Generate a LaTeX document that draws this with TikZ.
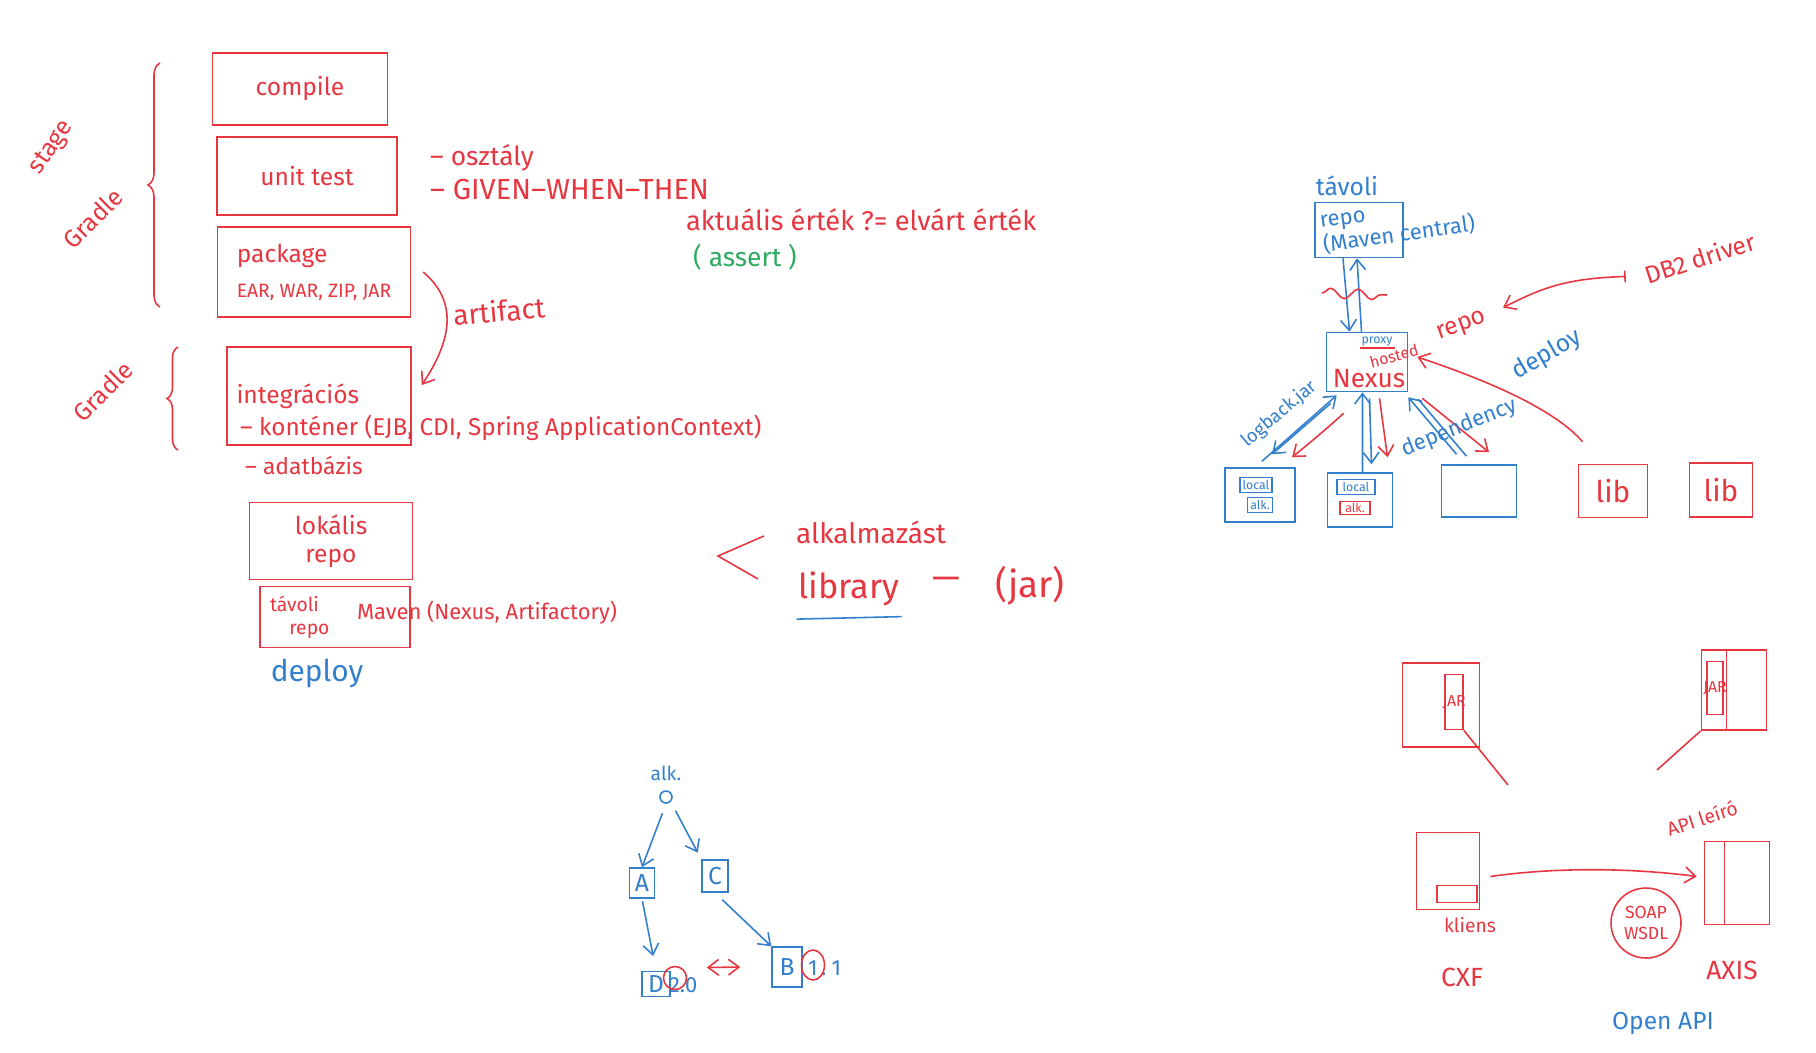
\documentclass[tikz,border=0pt]{standalone}
\usepackage{fontspec}
\setmainfont{Fira Sans}
\usetikzlibrary{positioning,arrows.meta,shapes.geometric,decorations.pathreplacing,decorations.pathmorphing}
\definecolor{penred}{RGB}{230,55,65}
\definecolor{penblue}{RGB}{50,128,205}
\definecolor{pengreen}{RGB}{45,170,95}

\begin{document}
\begin{tikzpicture}[
    x=0.02cm, y=-0.02cm,
    >={Straight Barb[length=6pt,width=9pt]},
    every node/.style={font=\fontsize{14}{16}\selectfont, inner sep=1pt},
    mid/.style={font=\fontsize{12.5}{14}\selectfont},
    small/.style={font=\fontsize{11}{13}\selectfont},
    tiny/.style={font=\fontsize{7}{8}\selectfont},
    big/.style={font=\fontsize{17}{19}\selectfont},
    rtext/.style={text=penred},
    btext/.style={text=penblue},
    rbox/.style={draw=penred, line width=0.9pt, text=penred},
    bbox/.style={draw=penblue, line width=0.9pt, text=penblue},
    rline/.style={draw=penred, line width=0.9pt},
    bline/.style={draw=penblue, line width=0.9pt}
  ]
  \fill[white] (0,0) rectangle (1816,1052);

  % build steps
  \node[rbox, minimum width=3.5cm, minimum height=1.44cm] (compile) at (300,89) {compile};
  \node[rbox, minimum width=3.6cm, minimum height=1.56cm] (unittest) at (307,176) {unit test};
  \node[rbox, minimum width=3.86cm, minimum height=1.8cm, align=left] (package) at (314,272)
    {package\\[4pt]{\fontsize{11}{13}\selectfont EAR, WAR, ZIP, JAR}};
  \node[rbox, minimum width=3.68cm, minimum height=1.96cm, text width=3.3cm, align=left] (integ) at (319,396) {integrációs};
  \node[rtext, font=\fontsize{13.8}{15}\selectfont, anchor=west] (kontener) at (238,428) {– konténer (EJB, CDI, Spring ApplicationContext)};
  \node[rtext, font=\fontsize{13}{15}\selectfont, anchor=west] (adatbazis) at (243,465) {– adatbázis};
  \node[rbox, minimum width=3.26cm, minimum height=1.54cm, align=center] (lokalis) at (331,541) {lokális\\repo};
  \node[rbox, minimum width=3.0cm, minimum height=1.22cm, text width=2.6cm, align=left, small] (tavoli) at (335,617) {távoli\\\quad repo};
  \node[rtext, mid, anchor=west] (maven) at (355,613) {Maven (Nexus, Artifactory)};
  \node[btext, big] (deploy) at (317,673) {deploy};

  % braces
  \draw[rline, decorate, decoration={brace, amplitude=0.24cm}] (160,307) -- (160,63);
  \node[rtext, rotate=55] (stage) at (52,148) {stage};
  \node[rtext, rotate=45] (gradleA) at (93,218) {Gradle};
  \draw[rline, decorate, decoration={brace, amplitude=0.22cm}] (178,450) -- (178,347);
  \node[rtext, rotate=45] (gradleB) at (103,391) {Gradle};

  \draw[rline, ->] ([xshift=0.24cm]package.east) .. controls +(35,30) and +(30,-45) .. ([xshift=0.2cm,yshift=0.22cm]integ.east);
  \node[rtext, font=\fontsize{16}{18}\selectfont, rotate=5] (artifact) at (499,311) {artifact};

  % unit test notes
  \node[rtext, font=\fontsize{15}{17}\selectfont, anchor=west] (osztaly) at (428,158) {– osztály};
  \node[rtext, font=\fontsize{16.5}{18}\selectfont, anchor=west] (gwt) at (428,190) {– GIVEN–WHEN–THEN};
  \node[rtext, font=\fontsize{15.5}{17}\selectfont, anchor=west] (aktualis) at (684,220) {aktuális érték ?= elvárt érték};
  \node[text=pengreen, font=\fontsize{15}{17}\selectfont] (assert) at (745,257) {( assert )};

  % library
  \draw[rline] (764,536) -- (718,556) -- (758,579);
  \node[rtext, font=\fontsize{16}{18}\selectfont] (alkalmazast) at (871,532) {alkalmazást};
  \node[rtext, font=\fontsize{19.5}{21}\selectfont] (library) at (849,589) {library};
  \draw[bline] ([yshift=-0.22cm]library.south west) -- ([yshift=-0.17cm]library.south east);
  \node[rtext, font=\fontsize{20}{22}\selectfont] (dash) at (946,583) {—};
  \node[rtext, font=\fontsize{21}{23}\selectfont] (jar) at (1030,586) {(jar)};

  % remote repo and Nexus
  \node[btext] (tavoliB) at (1347,186) {távoli};
  \node[bbox, minimum width=1.76cm, minimum height=1.1cm] (central) at (1359,230) {};
  \node[btext, mid, anchor=west, align=left, rotate=8] (centraltext) at (1320,236) {repo\\(Maven central)};
  \node[bbox, minimum width=1.62cm, minimum height=1.18cm] (nexus) at (1367,362) {};
  \node[btext, tiny] (proxy) at (1377,341) {proxy};
  \draw[rline] (proxy.south west) -- (proxy.south east);
  \node[rtext, font=\fontsize{9}{10}\selectfont, rotate=15] (hosted) at (1394,356) {hosted};
  \node[rtext, font=\fontsize{15}{17}\selectfont] (nexustext) at (1369,379) {Nexus};
  \draw[bline, ->] ([xshift=-0.32cm]central.south) -- ([xshift=-0.35cm]nexus.north);
  \draw[bline, ->] ([xshift=-0.11cm]nexus.north) -- ([xshift=-0.04cm]central.south);
  \draw[rline, decorate, decoration={snake, amplitude=0.1cm, segment length=0.55cm}] (1322,293) -- (1387,295);

  \node[rtext, rotate=20] (repolbl) at (1462,327) {repo};
  \node[rtext, rotate=18] (db2) at (1700,258) {DB2 driver};
  \draw[rline, |->] ([xshift=-0.35cm]db2.west) .. controls +(-60,2) and +(40,-20) .. ([xshift=0.3cm,yshift=0.2cm]repolbl.east);
  \node[btext, rotate=30] (deployB) at (1547,355) {deploy};

  \node[bbox, minimum width=1.4cm, minimum height=1.08cm] (box1) at (1260,495) {};
  \node[bbox, tiny, minimum width=0.64cm, minimum height=0.3cm] (local1) at (1256,485) {local};
  \node[bbox, tiny, minimum width=0.5cm, minimum height=0.3cm] (alk1) at (1260,505) {alk.};
  \node[bbox, minimum width=1.3cm, minimum height=1.08cm] (box2) at (1360,500) {};
  \node[bbox, tiny, minimum width=0.76cm, minimum height=0.3cm] (local2) at (1356,487) {local};
  \node[rbox, tiny, minimum width=0.6cm, minimum height=0.26cm] (alk2) at (1355,508) {alk.};
  \node[bbox, minimum width=1.5cm, minimum height=1.04cm] (box3) at (1479,491) {};
  \node[rbox, big, minimum width=1.38cm, minimum height=1.06cm] (lib1) at (1613,491) {lib};
  \node[rbox, big, minimum width=1.26cm, minimum height=1.08cm] (lib2) at (1721,490) {lib};

  \draw[rline, ->] ([xshift=-0.61cm,yshift=0.44cm]lib1.north) .. controls +(-30,-35) and +(60,20) .. ([xshift=0.18cm,yshift=0.1cm]nexus.east);

  \draw[bline, ->] ([xshift=0.04cm,yshift=0.12cm]box1.north) -- ([xshift=0.22cm,yshift=-0.06cm]nexus.south west);
  \draw[bline, ->] ([xshift=0.1cm,yshift=-0.22cm]nexus.south west) -- ([xshift=0.24cm,yshift=0.26cm]box1.north);
  \draw[rline, ->] ([xshift=0.36cm,yshift=-0.42cm]nexus.south west) .. controls +(-20,18) and +(15,-12) .. ([xshift=0.64cm,yshift=0.2cm]box1.north);
  \node[btext, font=\fontsize{10.5}{12}\selectfont, rotate=40] (logback) at (1279,414) {logback.jar};

  \draw[bline, ->] ([xshift=0.05cm]box2.north) -- ([xshift=-0.09cm]nexus.south);
  \draw[bline, ->] ([xshift=0.05cm,yshift=-0.12cm]nexus.south) -- ([xshift=0.23cm,yshift=0.16cm]box2.north);
  \draw[rline, ->] ([xshift=0.25cm,yshift=-0.12cm]nexus.south) -- ([xshift=0.55cm,yshift=0.3cm]box2.north);

  \draw[bline, ->] ([xshift=-0.45cm,yshift=0.2cm]box3.north) -- ([yshift=-0.1cm]nexus.south east);
  \draw[bline] ([xshift=-0.25cm,yshift=0.16cm]box3.north) -- ([xshift=0.2cm,yshift=-0.14cm]nexus.south east);
  \draw[rline, ->] ([xshift=0.28cm,yshift=-0.12cm]nexus.south east) -- ([xshift=0.2cm,yshift=0.24cm]box3.north);
  \node[btext, mid, rotate=22] (dependency) at (1459,428) {dependency};

  % dependency tree
  \node[btext, small] (alkroot) at (666,773) {alk.};
  \node[bline, circle, minimum size=0.24cm] (root) at (666,797) {};
  \node[bbox, minimum width=0.5cm, minimum height=0.6cm] (A) at (642,883) {A};
  \node[bbox, minimum width=0.52cm, minimum height=0.64cm] (C) at (715,876) {C};
  \node[bbox, minimum width=0.56cm, minimum height=0.5cm] (D) at (656,984) {D};
  \node[btext, mid, anchor=west] (ver2) at (667,985) {2.0};
  \node[rline, circle, minimum size=0.46cm] (ring2) at (675,978) {};
  \node[bbox, minimum width=0.6cm, minimum height=0.8cm] (B) at (787,967) {B};
  \node[btext, mid, anchor=west] (ver1) at (806,968) {1\hspace{2pt}.\hspace{3pt}1};
  \node[rline, ellipse, minimum width=0.46cm, minimum height=0.6cm] (ring1) at (813,965) {};
  \draw[bline, ->, shorten <=0.2cm] (root.south) -- (A.north);
  \draw[bline, ->, shorten <=0.2cm, shorten >=0.15cm] (root.south east) -- (C.north west);
  \draw[bline, ->, shorten <=0.05cm, shorten >=0.3cm] (A.south) -- (D.north);
  \draw[bline, ->, shorten <=0.2cm] (C.south) -- (B.north west);
  \draw[rline, <->] ([xshift=0.15cm,yshift=0.35cm]ver2.east) -- ([xshift=-0.62cm]B.west);

  % web services
  \node[rbox, minimum width=1.54cm, minimum height=1.68cm] (jar1) at (1441,705) {};
  \node[rbox, minimum width=0.36cm, minimum height=1.1cm, label={[rtext, font=\fontsize{9}{10}\selectfont]center:JAR}] (jar1in) at (1454,702) {};
  \coordinate (jar1end) at (1508,785);
  \draw[rline] (jar1in.south east) -- (jar1end);
  \node[rbox, minimum width=1.3cm, minimum height=1.6cm] (jar2) at (1734,690) {};
  \draw[rline] ([xshift=-0.15cm]jar2.north) -- ([xshift=-0.15cm]jar2.south);
  \node[rbox, minimum width=0.32cm, minimum height=1.06cm, label={[rtext, font=\fontsize{9}{10}\selectfont]center:JAR}] (jar2in) at (1715,688) {};
  \coordinate (jar2end) at (1657,770);
  \draw[rline] (jar2.south west) -- (jar2end);
  \node[rtext, small, rotate=18] (apileiro) at (1702,818) {API leíró};

  \node[rbox, minimum width=1.26cm, minimum height=1.54cm] (kliens) at (1448,871) {};
  \node[rbox, minimum width=0.8cm, minimum height=0.34cm] (kliensin) at (1457,894) {};
  \node[rtext, small] (klienstext) at (1470,925) {kliens};
  \node[rtext, font=\fontsize{15}{17}\selectfont] (cxf) at (1462,977) {CXF};
  \node[rbox, minimum width=1.3cm, minimum height=1.66cm] (axis) at (1737,883) {};
  \draw[rline] ([xshift=-0.25cm]axis.north) -- ([xshift=-0.25cm]axis.south);
  \node[rtext, font=\fontsize{15}{17}\selectfont] (axistext) at (1732,970) {AXIS};
  \draw[rline, ->] ([xshift=0.2cm,yshift=-0.11cm]kliens.east) .. controls +(70,-10) and +(-60,-8) .. ([xshift=-0.14cm,yshift=0.13cm]axis.west);
  \node[rbox, circle, minimum size=1.4cm, align=center, font=\fontsize{10}{12}\selectfont] (soap) at (1646,923) {SOAP\\WSDL};
  \node[btext] (openapi) at (1663,1023) {Open API};
\end{tikzpicture}
\end{document}
